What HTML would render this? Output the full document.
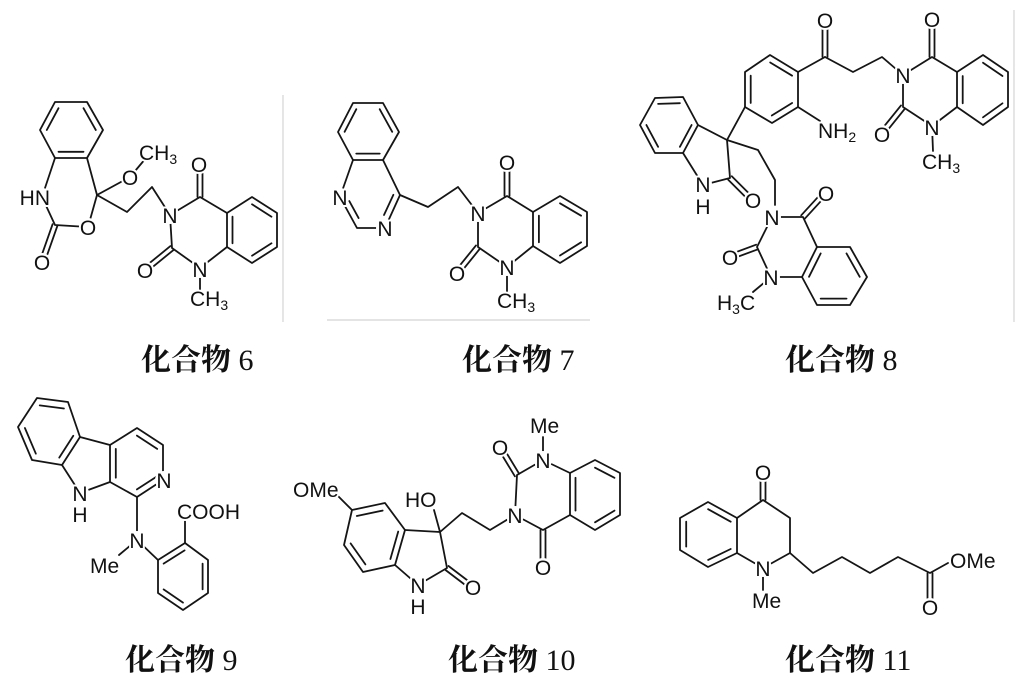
<!DOCTYPE html>
<html><head><meta charset="utf-8"><style>
html,body{margin:0;padding:0;background:#fff;}
svg{display:block;}
.b{stroke:#151515;stroke-width:1.8;fill:none;stroke-linecap:round;stroke-linejoin:round;}
.m circle{fill:#fff;stroke:none;}
.t{font-family:"Liberation Sans",Arial,sans-serif;font-size:21px;fill:#111;stroke:#fff;stroke-width:4;paint-order:stroke;stroke-linejoin:round;}
.c{text-anchor:middle;}
.s{font-size:14px;}
.lab{font-family:"Liberation Serif","Noto Serif CJK SC",serif;font-size:30px;fill:#111;}
.cj{font-weight:bold;}
.g{stroke:#d4d4d4;stroke-width:1.2;}
</style></head><body>
<svg width="1030" height="683" viewBox="0 0 1030 683" xmlns="http://www.w3.org/2000/svg">
<rect width="1030" height="683" fill="#fff"/>
<line class="g" x1="283" y1="95" x2="283" y2="322"/>
<line class="g" x1="327" y1="320" x2="590" y2="320"/>
<line class="g" x1="1014" y1="10" x2="1014" y2="322"/>

<!-- ===== Compound 6 ===== -->
<g class="b">
<polygon points="55,102 87,102 103,130 87,158 55,158 40,130"/>
<line x1="83.5" y1="151.8" x2="58.5" y2="151.8"/>
<line x1="46.8" y1="130" x2="58.5" y2="108.2"/>
<line x1="83.5" y1="108.2" x2="95.8" y2="130"/>
<polyline points="55,158 42,197 55,225 88,227 97,195 87,158"/>
<line x1="57.4" y1="225.8" x2="44.4" y2="262.8"/>
<line x1="52.6" y1="224.2" x2="39.6" y2="261.2"/>
<polyline points="97,195 130,177 146,158"/>
<polyline points="97,195 127,212 152,187 170,215"/>
<polygon points="170,215 200,197 227,213 227,247 200,268 172,248"/>
<polyline points="227,213 252,197 277,213 277,247 252,263 227,247"/>
<line x1="232.5" y1="216.7" x2="232.5" y2="243.3"/>
<line x1="252" y1="204.3" x2="271.5" y2="216.7"/>
<line x1="271.5" y1="243.3" x2="252" y2="255.7"/>
<line x1="197.5" y1="197" x2="197.5" y2="166"/>
<line x1="202.5" y1="197" x2="202.5" y2="166"/>
<line x1="173.6" y1="249.9" x2="146.6" y2="271.9"/>
<line x1="170.4" y1="246.1" x2="143.4" y2="268.1"/>
<line x1="200" y1="268" x2="200" y2="290"/>
</g>

<!-- ===== Compound 7 ===== -->
<g class="b">
<polygon points="353,103 383,103 399,132 383,160 353,160 338,132"/>
<line x1="379.7" y1="153.6" x2="356.3" y2="153.6"/>
<line x1="344.6" y1="131.8" x2="356.3" y2="109.2"/>
<line x1="379.7" y1="109.2" x2="392.2" y2="131.8"/>
<polyline points="353,160 340,197 357,228 385,228 400,195 383,160"/>
<line x1="349.3" y1="201.1" x2="358.6" y2="218.1"/>
<line x1="393.4" y1="194.8" x2="384" y2="215"/>
<polyline points="400,195 428,207 458,187 478,213"/>
<polygon points="478,213 507,196 533,212 533,246 507,267 478,247"/>
<polyline points="533,212 560,196 587,212 587,246 560,263 533,246"/>
<line x1="538.9" y1="215.7" x2="538.9" y2="242.3"/>
<line x1="560" y1="203.3" x2="581.1" y2="215.7"/>
<line x1="581.1" y1="242.3" x2="560" y2="255.5"/>
<line x1="504.5" y1="196" x2="504.5" y2="165"/>
<line x1="509.5" y1="196" x2="509.5" y2="165"/>
<line x1="480" y1="248.6" x2="459" y2="274.6"/>
<line x1="476" y1="245.4" x2="455" y2="271.4"/>
<line x1="507" y1="267" x2="507" y2="292"/>
</g>

<!-- ===== Compound 8 ===== -->
<g class="b">
<polygon points="770,55 798,72 798,107 772,123 745,107 745,72"/>
<line x1="750.7" y1="75.7" x2="750.7" y2="103"/>
<line x1="770.2" y1="62.5" x2="792.1" y2="75.7"/>
<line x1="792.1" y1="103" x2="771.8" y2="115.5"/>
<line x1="798" y1="72" x2="825" y2="57"/>
<line x1="822.5" y1="57" x2="822.5" y2="24"/>
<line x1="827.5" y1="57" x2="827.5" y2="24"/>
<polyline points="825,57 853,72 882,57 903,75"/>
<line x1="798" y1="107" x2="820" y2="121"/>
<polygon points="903,75 932,57 957,72 957,107 932,126 903,107"/>
<polyline points="957,72 983,55 1008,72 1008,107 983,125 957,107"/>
<line x1="962.7" y1="76" x2="962.7" y2="103.3"/>
<line x1="983" y1="62.7" x2="1002.5" y2="76"/>
<line x1="1002.5" y1="103.3" x2="983" y2="117.3"/>
<line x1="929.5" y1="57" x2="929.5" y2="24"/>
<line x1="934.5" y1="57" x2="934.5" y2="24"/>
<line x1="905" y1="108.6" x2="884" y2="134.6"/>
<line x1="901" y1="105.4" x2="880" y2="131.4"/>
<line x1="932" y1="126" x2="933" y2="151"/>
<line x1="745" y1="107" x2="727" y2="140"/>
<polygon points="655,98 683,97 698,125 683,153 655,153 640,125"/>
<line x1="658.1" y1="103.9" x2="679.9" y2="103.2"/>
<line x1="691.6" y1="125" x2="679.9" y2="146.8"/>
<line x1="658.1" y1="146.8" x2="646.4" y2="125"/>
<polyline points="698,125 727,140 730,178 703,185 683,153"/>
<line x1="731.8" y1="176.2" x2="753.8" y2="198.2"/>
<line x1="728.2" y1="179.8" x2="750.2" y2="201.8"/>
<polyline points="727,140 758,150 775,180 775,205"/>
<polygon points="772,217 803,217 817,247 802,277 771,277 757,247"/>
<polyline points="817,247 850,247 867,277 850,305 817,305 802,277"/>
<line x1="820.7" y1="253.4" x2="809" y2="276.8"/>
<line x1="846.5" y1="253.4" x2="859.7" y2="276.8"/>
<line x1="846.5" y1="298.6" x2="820.7" y2="298.6"/>
<line x1="804.8" y1="218.7" x2="826.8" y2="194.7"/>
<line x1="801.2" y1="215.3" x2="823.2" y2="191.3"/>
<line x1="757.9" y1="249.3" x2="730.9" y2="259.3"/>
<line x1="756.1" y1="244.7" x2="729.1" y2="254.7"/>
<line x1="771" y1="277" x2="753" y2="292"/>
</g>

<!-- ===== Compound 9 ===== -->
<g class="b">
<polygon points="37,398 68,402 80,437 62,465 32,460 18,427"/>
<line x1="39.75" y1="405.4" x2="63.9" y2="408.5"/>
<line x1="73.3" y1="435.8" x2="59.25" y2="457.6"/>
<line x1="35.85" y1="453.7" x2="24.9" y2="428"/>
<polyline points="80,437 110,445 110,482 80,493 62,465"/>
<polyline points="110,445 137,428 163,445 163,480 137,497 110,482"/>
<line x1="136.9" y1="435.6" x2="157.2" y2="448.9"/>
<line x1="157.2" y1="476.2" x2="136.9" y2="489.4"/>
<line x1="115.8" y1="448.9" x2="115.8" y2="477.7"/>
<line x1="137" y1="497" x2="137" y2="540"/>
<line x1="137" y1="540" x2="119" y2="555"/>
<line x1="137" y1="540" x2="158" y2="560"/>
<polygon points="185,543 208,560 208,593 183,610 158,593 158,560"/>
<line x1="202.6" y1="563.6" x2="202.6" y2="589.4"/>
<line x1="183" y1="602.6" x2="163.6" y2="589.4"/>
<line x1="163.6" y1="563.6" x2="184.6" y2="550.4"/>
<line x1="185" y1="543" x2="185" y2="518"/>
</g>

<!-- ===== Compound 10 ===== -->
<g class="b">
<line x1="338" y1="496" x2="352" y2="510"/>
<polygon points="352,510 385,503 405,530 395,565 363,572 344,545"/>
<line x1="356.8" y1="516" x2="382.6" y2="510.6"/>
<line x1="398.2" y1="531.6" x2="390.4" y2="559"/>
<line x1="365.4" y1="564.4" x2="350.6" y2="543.4"/>
<polyline points="405,530 440,532 447,568 418,585 395,565"/>
<line x1="440" y1="532" x2="434" y2="510"/>
<line x1="445.5" y1="570" x2="470.5" y2="589"/>
<line x1="448.5" y1="566" x2="473.5" y2="585"/>
<polyline points="440,532 462,513 490,530 515,515"/>
<polygon points="515,515 517,475 543,460 570,473 570,515 543,530"/>
<polyline points="570,473 595,460 620,473 620,515 595,530 570,515"/>
<line x1="575.5" y1="477.8" x2="575.5" y2="510.6"/>
<line x1="595" y1="467.7" x2="614.5" y2="477.8"/>
<line x1="614.5" y1="510.6" x2="595" y2="522.3"/>
<line x1="519.1" y1="473.7" x2="502.1" y2="445.7"/>
<line x1="514.9" y1="476.3" x2="497.9" y2="448.3"/>
<line x1="540.5" y1="530" x2="540.5" y2="562"/>
<line x1="545.5" y1="530" x2="545.5" y2="562"/>
<line x1="543" y1="460" x2="543" y2="437"/>
</g>

<!-- ===== Compound 11 ===== -->
<g class="b">
<polygon points="737,518 708,502 680,518 680,550 708,567 737,553"/>
<line x1="730.7" y1="521.7" x2="708.1" y2="509.2"/>
<line x1="686.2" y1="521.7" x2="686.2" y2="546.6"/>
<line x1="708.1" y1="559.9" x2="730.7" y2="549"/>
<polyline points="737,518 763,500 790,518 790,553 763,568 737,553"/>
<line x1="760.5" y1="500" x2="760.5" y2="478"/>
<line x1="765.5" y1="500" x2="765.5" y2="478"/>
<line x1="763" y1="568" x2="763" y2="590"/>
<polyline points="790,553 813,573 842,557 870,573 898,557 930,573 948,563"/>
<line x1="927.5" y1="573" x2="927.5" y2="600"/>
<line x1="932.5" y1="573" x2="932.5" y2="600"/>
</g>

<!-- label masks -->
<g class="m">
<circle cx="42" cy="197" r="9"/><circle cx="88" cy="227" r="9"/><circle cx="42" cy="262" r="9"/>
<circle cx="130" cy="177" r="9"/><circle cx="199" cy="164" r="9"/><circle cx="170" cy="215" r="9"/>
<circle cx="200" cy="269" r="9"/><circle cx="145" cy="270" r="9"/>
<circle cx="340" cy="197" r="9"/><circle cx="385" cy="228" r="9"/><circle cx="478" cy="213" r="9"/>
<circle cx="507" cy="162" r="9"/><circle cx="457" cy="273" r="9"/><circle cx="507" cy="267" r="9"/>
<circle cx="825" cy="20" r="9"/><circle cx="932" cy="19" r="9"/><circle cx="903" cy="75" r="9"/>
<circle cx="882" cy="134" r="9"/><circle cx="932" cy="127" r="9"/><circle cx="703" cy="184" r="9"/>
<circle cx="753" cy="200" r="9"/><circle cx="772" cy="217" r="9"/><circle cx="826" cy="193" r="9"/>
<circle cx="730" cy="257" r="9"/><circle cx="771" cy="277" r="9"/><circle cx="826" cy="130" r="8"/>
<circle cx="80" cy="493" r="9"/><circle cx="164" cy="480" r="9"/><circle cx="137" cy="540" r="9"/>
<circle cx="418" cy="585" r="9"/><circle cx="473" cy="587" r="9"/><circle cx="515" cy="515" r="9"/>
<circle cx="500" cy="447" r="9"/><circle cx="543" cy="460" r="9"/><circle cx="543" cy="567" r="9"/>
<circle cx="763" cy="472" r="9"/><circle cx="763" cy="568" r="9"/><circle cx="930" cy="607" r="9"/>
<circle cx="958" cy="560" r="8"/>
</g>

<!-- labels compound 6 -->
<text class="t" x="50" y="205" text-anchor="end">HN</text>
<text class="t c" x="88" y="235">O</text>
<text class="t c" x="42" y="270">O</text>
<text class="t c" x="130" y="185">O</text>
<text class="t" x="139" y="160">CH<tspan class="s" dy="4">3</tspan></text>
<text class="t c" x="199" y="172">O</text>
<text class="t c" x="170" y="223">N</text>
<text class="t c" x="200" y="277">N</text>
<text class="t c" x="145" y="278">O</text>
<text class="t" x="190" y="306">CH<tspan class="s" dy="4">3</tspan></text>
<!-- labels compound 7 -->
<text class="t c" x="340" y="205">N</text>
<text class="t c" x="385" y="236">N</text>
<text class="t c" x="478" y="221">N</text>
<text class="t c" x="507" y="170">O</text>
<text class="t c" x="457" y="281">O</text>
<text class="t c" x="507" y="275">N</text>
<text class="t" x="497" y="308">CH<tspan class="s" dy="4">3</tspan></text>
<!-- labels compound 8 -->
<text class="t c" x="825" y="28">O</text>
<text class="t" x="818" y="138">NH<tspan class="s" dy="4">2</tspan></text>
<text class="t c" x="903" y="83">N</text>
<text class="t c" x="932" y="27">O</text>
<text class="t c" x="882" y="142">O</text>
<text class="t c" x="932" y="135">N</text>
<text class="t" x="922" y="169">CH<tspan class="s" dy="4">3</tspan></text>
<text class="t c" x="703" y="192">N</text>
<text class="t c" x="703" y="214">H</text>
<text class="t c" x="753" y="208">O</text>
<text class="t c" x="772" y="225">N</text>
<text class="t c" x="826" y="201">O</text>
<text class="t c" x="730" y="265">O</text>
<text class="t c" x="771" y="285">N</text>
<text class="t" x="717" y="310">H<tspan class="s" dy="4">3</tspan><tspan dy="-4">C</tspan></text>
<!-- labels compound 9 -->
<text class="t c" x="80" y="501">N</text>
<text class="t c" x="80" y="522">H</text>
<text class="t c" x="164" y="488">N</text>
<text class="t c" x="137" y="548">N</text>
<text class="t" x="90" y="573">Me</text>
<text class="t" x="177" y="519">COOH</text>
<!-- labels compound 10 -->
<text class="t" x="293" y="497">OMe</text>
<text class="t" x="405" y="507">HO</text>
<text class="t c" x="418" y="593">N</text>
<text class="t c" x="418" y="614">H</text>
<text class="t c" x="473" y="595">O</text>
<text class="t c" x="515" y="523">N</text>
<text class="t c" x="500" y="455">O</text>
<text class="t c" x="543" y="468">N</text>
<text class="t c" x="543" y="575">O</text>
<text class="t" x="530" y="433">Me</text>
<!-- labels compound 11 -->
<text class="t c" x="763" y="480">O</text>
<text class="t c" x="763" y="576">N</text>
<text class="t" x="752" y="608">Me</text>
<text class="t" x="950" y="568">OMe</text>
<text class="t c" x="930" y="615">O</text>

<!-- captions -->
<text class="lab" x="141" y="370"><tspan class="cj">化合物</tspan> 6</text>
<text class="lab" x="462" y="370"><tspan class="cj">化合物</tspan> 7</text>
<text class="lab" x="785" y="370"><tspan class="cj">化合物</tspan> 8</text>
<text class="lab" x="125" y="670"><tspan class="cj">化合物</tspan> 9</text>
<text class="lab" x="448" y="670"><tspan class="cj">化合物</tspan> 10</text>
<text class="lab" x="785" y="670"><tspan class="cj">化合物</tspan> 11</text>
</svg>
</body></html>
